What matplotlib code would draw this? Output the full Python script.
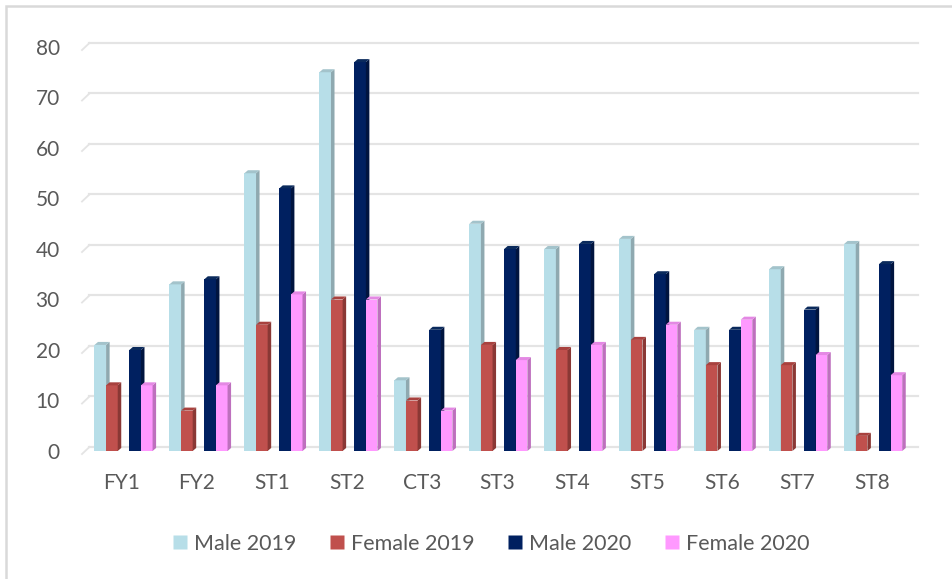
import matplotlib.pyplot as plt
from matplotlib.patches import Polygon, Rectangle
from matplotlib.lines import Line2D

# data
grupos = ['FY1', 'FY2', 'ST1', 'ST2', 'CT3', 'ST3', 'ST4', 'ST5', 'ST6', 'ST7', 'ST8']
male_2019 = [21, 33, 55, 75, 14, 45, 40, 42, 24, 36, 41]
female_2019 = [13, 8, 25, 30, 10, 21, 20, 22, 17, 17, 3]
male_2020 = [20, 34, 52, 77, 24, 40, 41, 35, 24, 28, 37]
female_2020 = [13, 13, 31, 30, 8, 18, 21, 25, 26, 19, 15]
series_nomes = ['Male 2019', 'Female 2019', 'Male 2020', 'Female 2020']
yticks = [0, 10, 20, 30, 40, 50, 60, 70, 80]

series = [male_2019, female_2019, male_2020, female_2020]
cor_frente = ['#B7DEE8', '#C0504D', '#002060', '#FF99FF']
cor_lado = ['#8FA9B0', '#8A3835', '#00143F', '#BE70BE']
cor_topo = ['#A3C3CB', '#A8413E', '#0A2A5C', '#E488E4']
offsets = [-0.29, -0.135, 0.175, 0.33]
largura = 0.155
dx, dy = 0.047, 0.6  # profundidade 3D

plt.rcParams['font.family'] = ['Lato', 'DejaVu Sans']
cinza = '#595959'

fig = plt.figure(figsize=(9.52, 5.79), dpi=100)
ax = fig.add_axes([82/952, 1 - 451/579, (918-82)/952, (451-47)/579])
x0, x1 = -0.534, 10.618
ax.set_xlim(x0, x1)
ax.set_ylim(0, 80)

# linhas de grade na parede do fundo
for t in yticks:
    ax.plot([x0, x0 + 0.1], [t - 0.6, t + 0.8], color='#E4E4E4', lw=1.3, zorder=1, clip_on=False)
    ax.plot([x0 + 0.1, x1], [t + 0.8, t + 0.8], color='#E4E4E4', lw=1.6, zorder=1, clip_on=False)

pos = list(range(len(grupos)))
for i, valores in enumerate(series):
    xs = [p + offsets[i] for p in pos]
    ax.bar(xs, valores, width=largura, color=cor_frente[i], zorder=3 + i, linewidth=0)
    for xc, v in zip(xs, valores):
        xl, xr = xc - largura/2, xc + largura/2
        lado = Polygon([(xr, 0), (xr + dx, dy), (xr + dx, v + dy), (xr, v)],
                       closed=True, facecolor=cor_lado[i], edgecolor='none', zorder=3 + i)
        topo = Polygon([(xl, v), (xl + dx, v + dy), (xr + dx, v + dy), (xr, v)],
                       closed=True, facecolor=cor_topo[i], edgecolor='none', zorder=3 + i)
        ax.add_patch(lado)
        ax.add_patch(topo)

ax.set_xticks(pos)
ax.set_xticklabels(grupos)
ax.set_yticks(yticks)
ax.tick_params(axis='x', length=0, pad=16, labelsize=15, labelcolor=cinza)
ax.tick_params(axis='y', length=0, pad=16, labelsize=15, labelcolor=cinza)
for s in ax.spines.values():
    s.set_visible(False)

# legenda
handles = [Line2D([], [], marker='s', linestyle='none', markersize=9.5,
                  markerfacecolor=c, markeredgecolor='none') for c in cor_frente]
fig.legend(handles, series_nomes, loc='center', ncol=4, frameon=False,
           bbox_to_anchor=(491/952, 1 - 544/579), fontsize=15.5, labelcolor=cinza,
           handlelength=0.7, handletextpad=0.3, columnspacing=1.55)

# borda do gráfico (só esquerda e topo aparecem)
fig.patches.append(Rectangle((6/952, -0.1), 1.2, 1.1 - 6/579,
                             transform=fig.transFigure, fill=False,
                             edgecolor='#D9D9D9', lw=1.8))

fig.savefig('out.png', dpi=100)
